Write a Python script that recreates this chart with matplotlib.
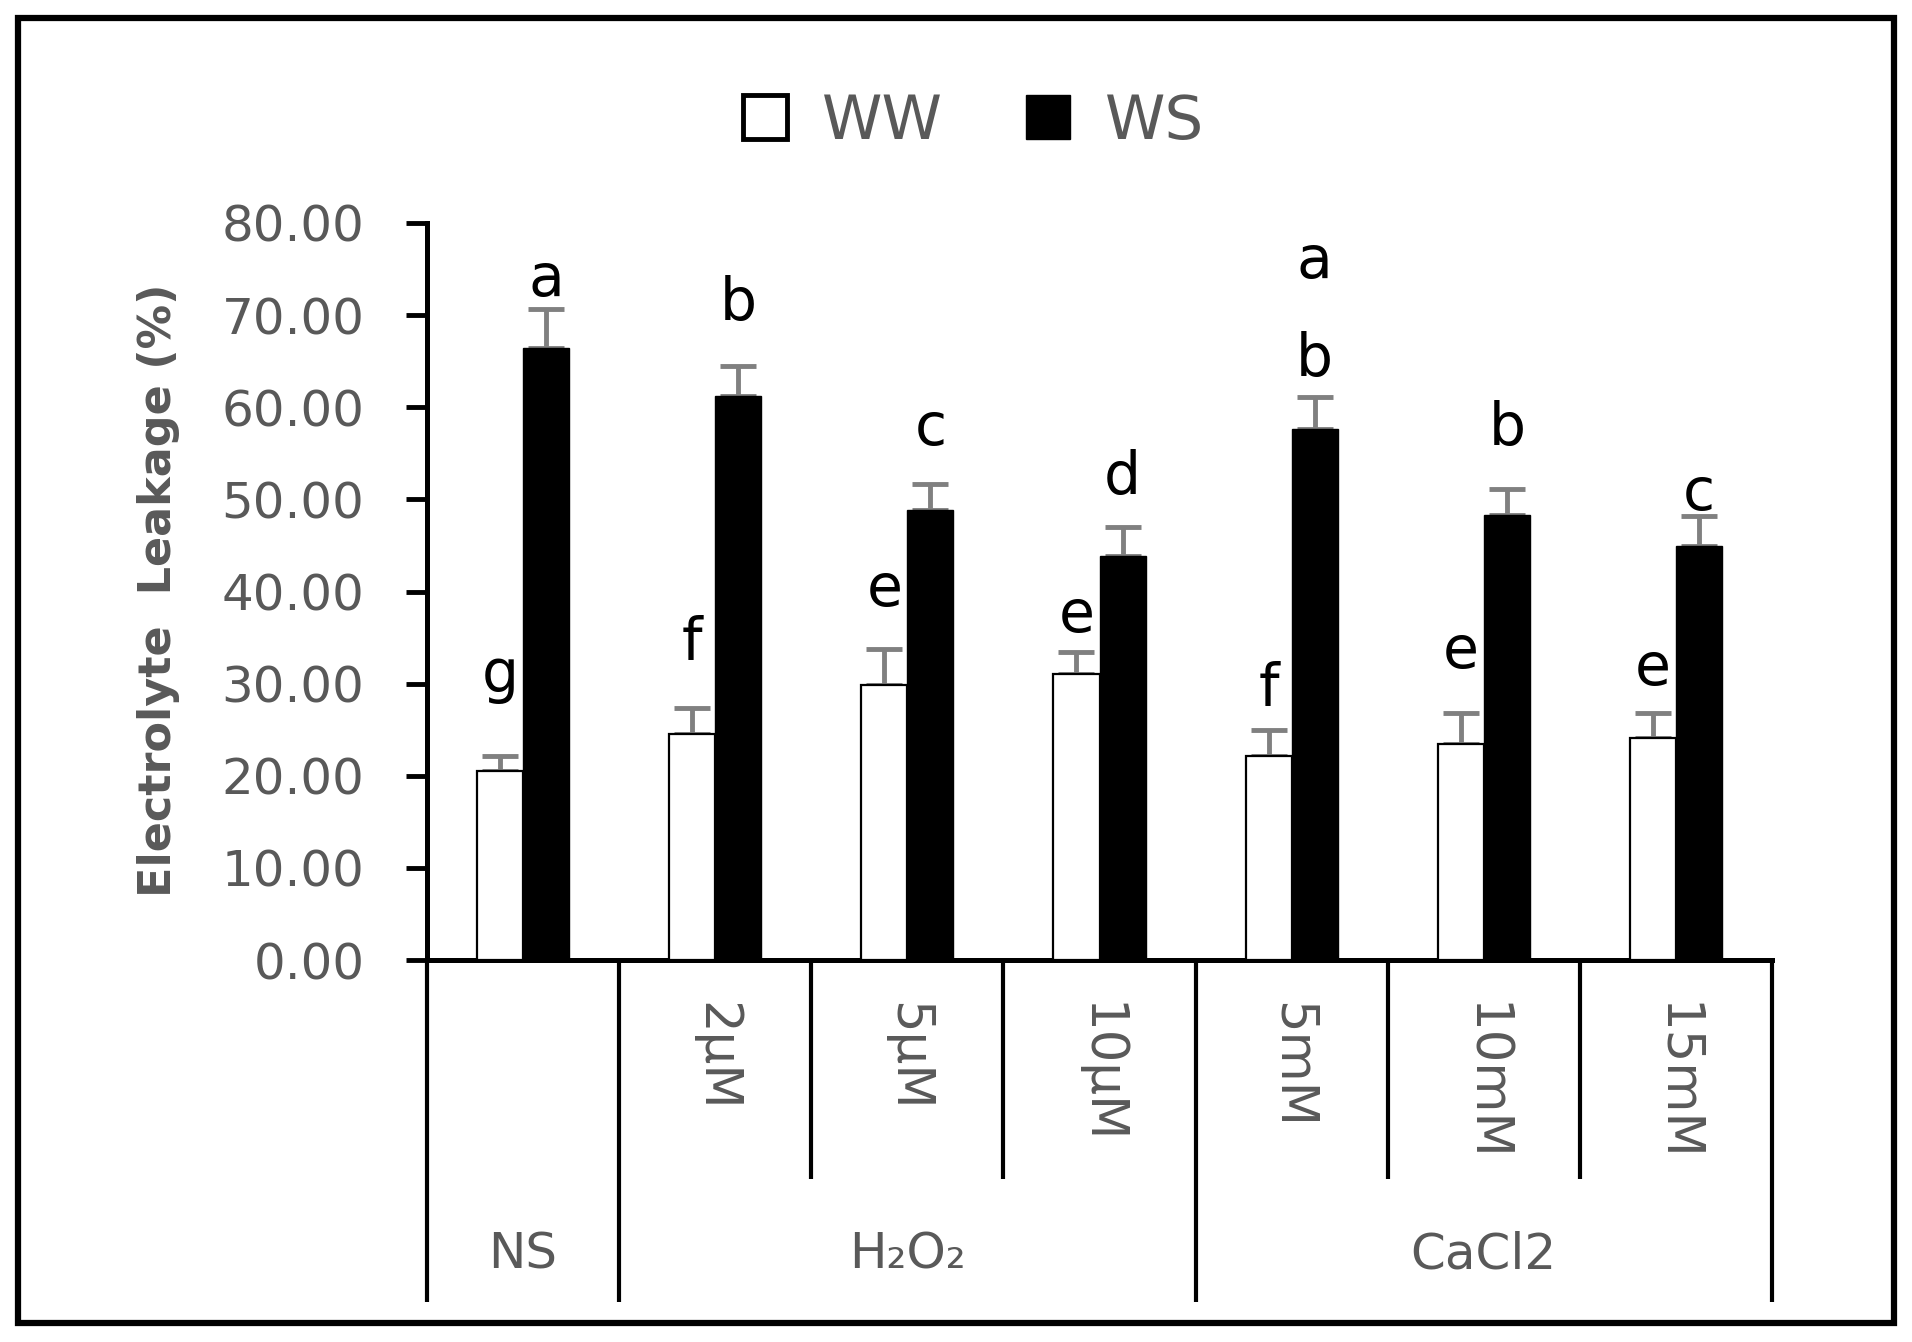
import matplotlib
matplotlib.use('Agg')
import matplotlib.pyplot as plt
import numpy as np
from matplotlib.patches import Patch, Rectangle
from matplotlib import font_manager as fm
import matplotlib.transforms as mtransforms

# ---------------- data ----------------
sub_labels = ['', '2µM', '5µM', '10µM', '5mM', '10mM', '15mM']
groups = ['NS', 'H₂O₂', 'CaCl2']
group_spans = [(0, 1), (1, 4), (4, 7)]
ww_mean = [20.5, 24.5, 29.8, 31.0, 22.1, 23.4, 24.1]
ww_err = [1.6, 2.9, 4.0, 2.4, 2.9, 3.4, 2.7]
ws_mean = [66.4, 61.2, 48.9, 43.8, 57.6, 48.3, 44.9]
ws_err = [4.3, 3.3, 2.8, 3.2, 3.5, 2.8, 3.3]
ww_letters = ['g', 'f', 'e', 'e', 'f', 'e', 'e']
ww_letter_y = [29.1, 32.7, 38.4, 35.6, 27.7, 31.7, 29.8]
ws_letters = [['a'], ['b'], ['c'], ['d'], ['a', 'b'], ['b'], ['c']]
ws_letter_y = [[72.1], [69.5], [55.9], [50.6], [74.0, 63.4], [55.9], [48.9]]
yticks = [0, 10, 20, 30, 40, 50, 60, 70, 80]
ytick_labels = ['%.2f' % v for v in yticks]

GRAY = '#595959'
names = {f.name for f in fm.fontManager.ttflist}
narrow = 'Liberation Sans Narrow' if 'Liberation Sans Narrow' in names else 'DejaVu Sans'

plt.rcParams['font.family'] = ['DejaVu Sans']

W, H = 1912, 1342
fig = plt.figure(figsize=(W / 100, H / 100), dpi=100)
ax = fig.add_axes([427 / W, 1 - 960 / H, (1772 - 427) / W, (960 - 223) / H])

x = np.arange(len(ww_mean)) + 0.5
bw = 0.24

ax.bar(x - bw / 2, ww_mean, bw, color='white', edgecolor='black', linewidth=1.6, zorder=3)
ax.bar(x + bw / 2, ws_mean, bw, color='black', edgecolor='black', linewidth=1.0, zorder=3)
zeros = np.zeros(len(ww_mean))
ax.errorbar(x - bw / 2, ww_mean, yerr=[zeros, ww_err], fmt='none', ecolor='#808080',
            elinewidth=3.5, capsize=13, capthick=3.5, zorder=2)
ax.errorbar(x + bw / 2, ws_mean, yerr=[zeros, ws_err], fmt='none', ecolor='#808080',
            elinewidth=3.5, capsize=13, capthick=3.5, zorder=2)

for xi, lt, ly in zip(x, ww_letters, ww_letter_y):
    ax.text(xi - bw / 2, ly, lt, ha='center', va='baseline', fontsize=42, color='black', zorder=5)
for xi, lts, lys in zip(x, ws_letters, ws_letter_y):
    for lt, ly in zip(lts, lys):
        ax.text(xi + bw / 2, ly, lt, ha='center', va='baseline', fontsize=42, color='black', zorder=5)

ax.set_xlim(0, 7)
ax.set_ylim(0, 80)
ax.set_yticks(yticks)
ax.set_yticklabels(ytick_labels, fontsize=36, color=GRAY)
ax.tick_params(axis='y', direction='out', length=15, width=3.5, pad=30, color='black')
ax.set_xticks([])
for s in ['top', 'right']:
    ax.spines[s].set_visible(False)
ax.spines['left'].set_linewidth(3.6)
ax.spines['bottom'].set_linewidth(3.6)

# multi-level category axis
trans = mtransforms.blended_transform_factory(ax.transData, ax.transAxes)
long_b = [0, 1, 4, 7]
short_b = [2, 3, 5, 6]
for b in long_b:
    ax.plot([b, b], [0, -0.464], transform=trans, color='black', lw=3, clip_on=False,
            solid_capstyle='butt')
for b in short_b:
    ax.plot([b, b], [0, -0.297], transform=trans, color='black', lw=3, clip_on=False,
            solid_capstyle='butt')
for xi, lab in zip(x, sub_labels):
    if lab:
        ax.text(xi, -0.057, lab, transform=trans, rotation=270, ha='center', va='top',
                fontsize=37, color=GRAY)
for (a, b), g in zip(group_spans, groups):
    ax.text((a + b) / 2, -0.40, g, transform=trans, ha='center', va='center',
            fontsize=36, color=GRAY)

# y label
fig.text(159 / W, 1 - 590 / H, 'Electrolyte  Leakage (%)', rotation=90, ha='center',
         va='center', fontsize=32, fontweight='bold', color=GRAY, family=[narrow, 'DejaVu Sans'])

# legend
handles = [Patch(facecolor='white', edgecolor='black', linewidth=3.5),
           Patch(facecolor='black', edgecolor='black')]
fig.legend(handles=handles, labels=['WW', 'WS'], loc='center', bbox_to_anchor=(0.509, 0.909),
           ncol=2, frameon=False, fontsize=44, handlelength=0.72, handleheight=0.72,
           handletextpad=0.57, columnspacing=1.36, labelcolor=GRAY)

# outer border
fig.add_artist(Rectangle((18 / W, 1 - 1323 / H), (1894 - 18) / W, (1323 - 18) / H,
                         transform=fig.transFigure, fill=False, lw=4.5, ec='black'))

fig.savefig('out.png', dpi=100, facecolor='white')
